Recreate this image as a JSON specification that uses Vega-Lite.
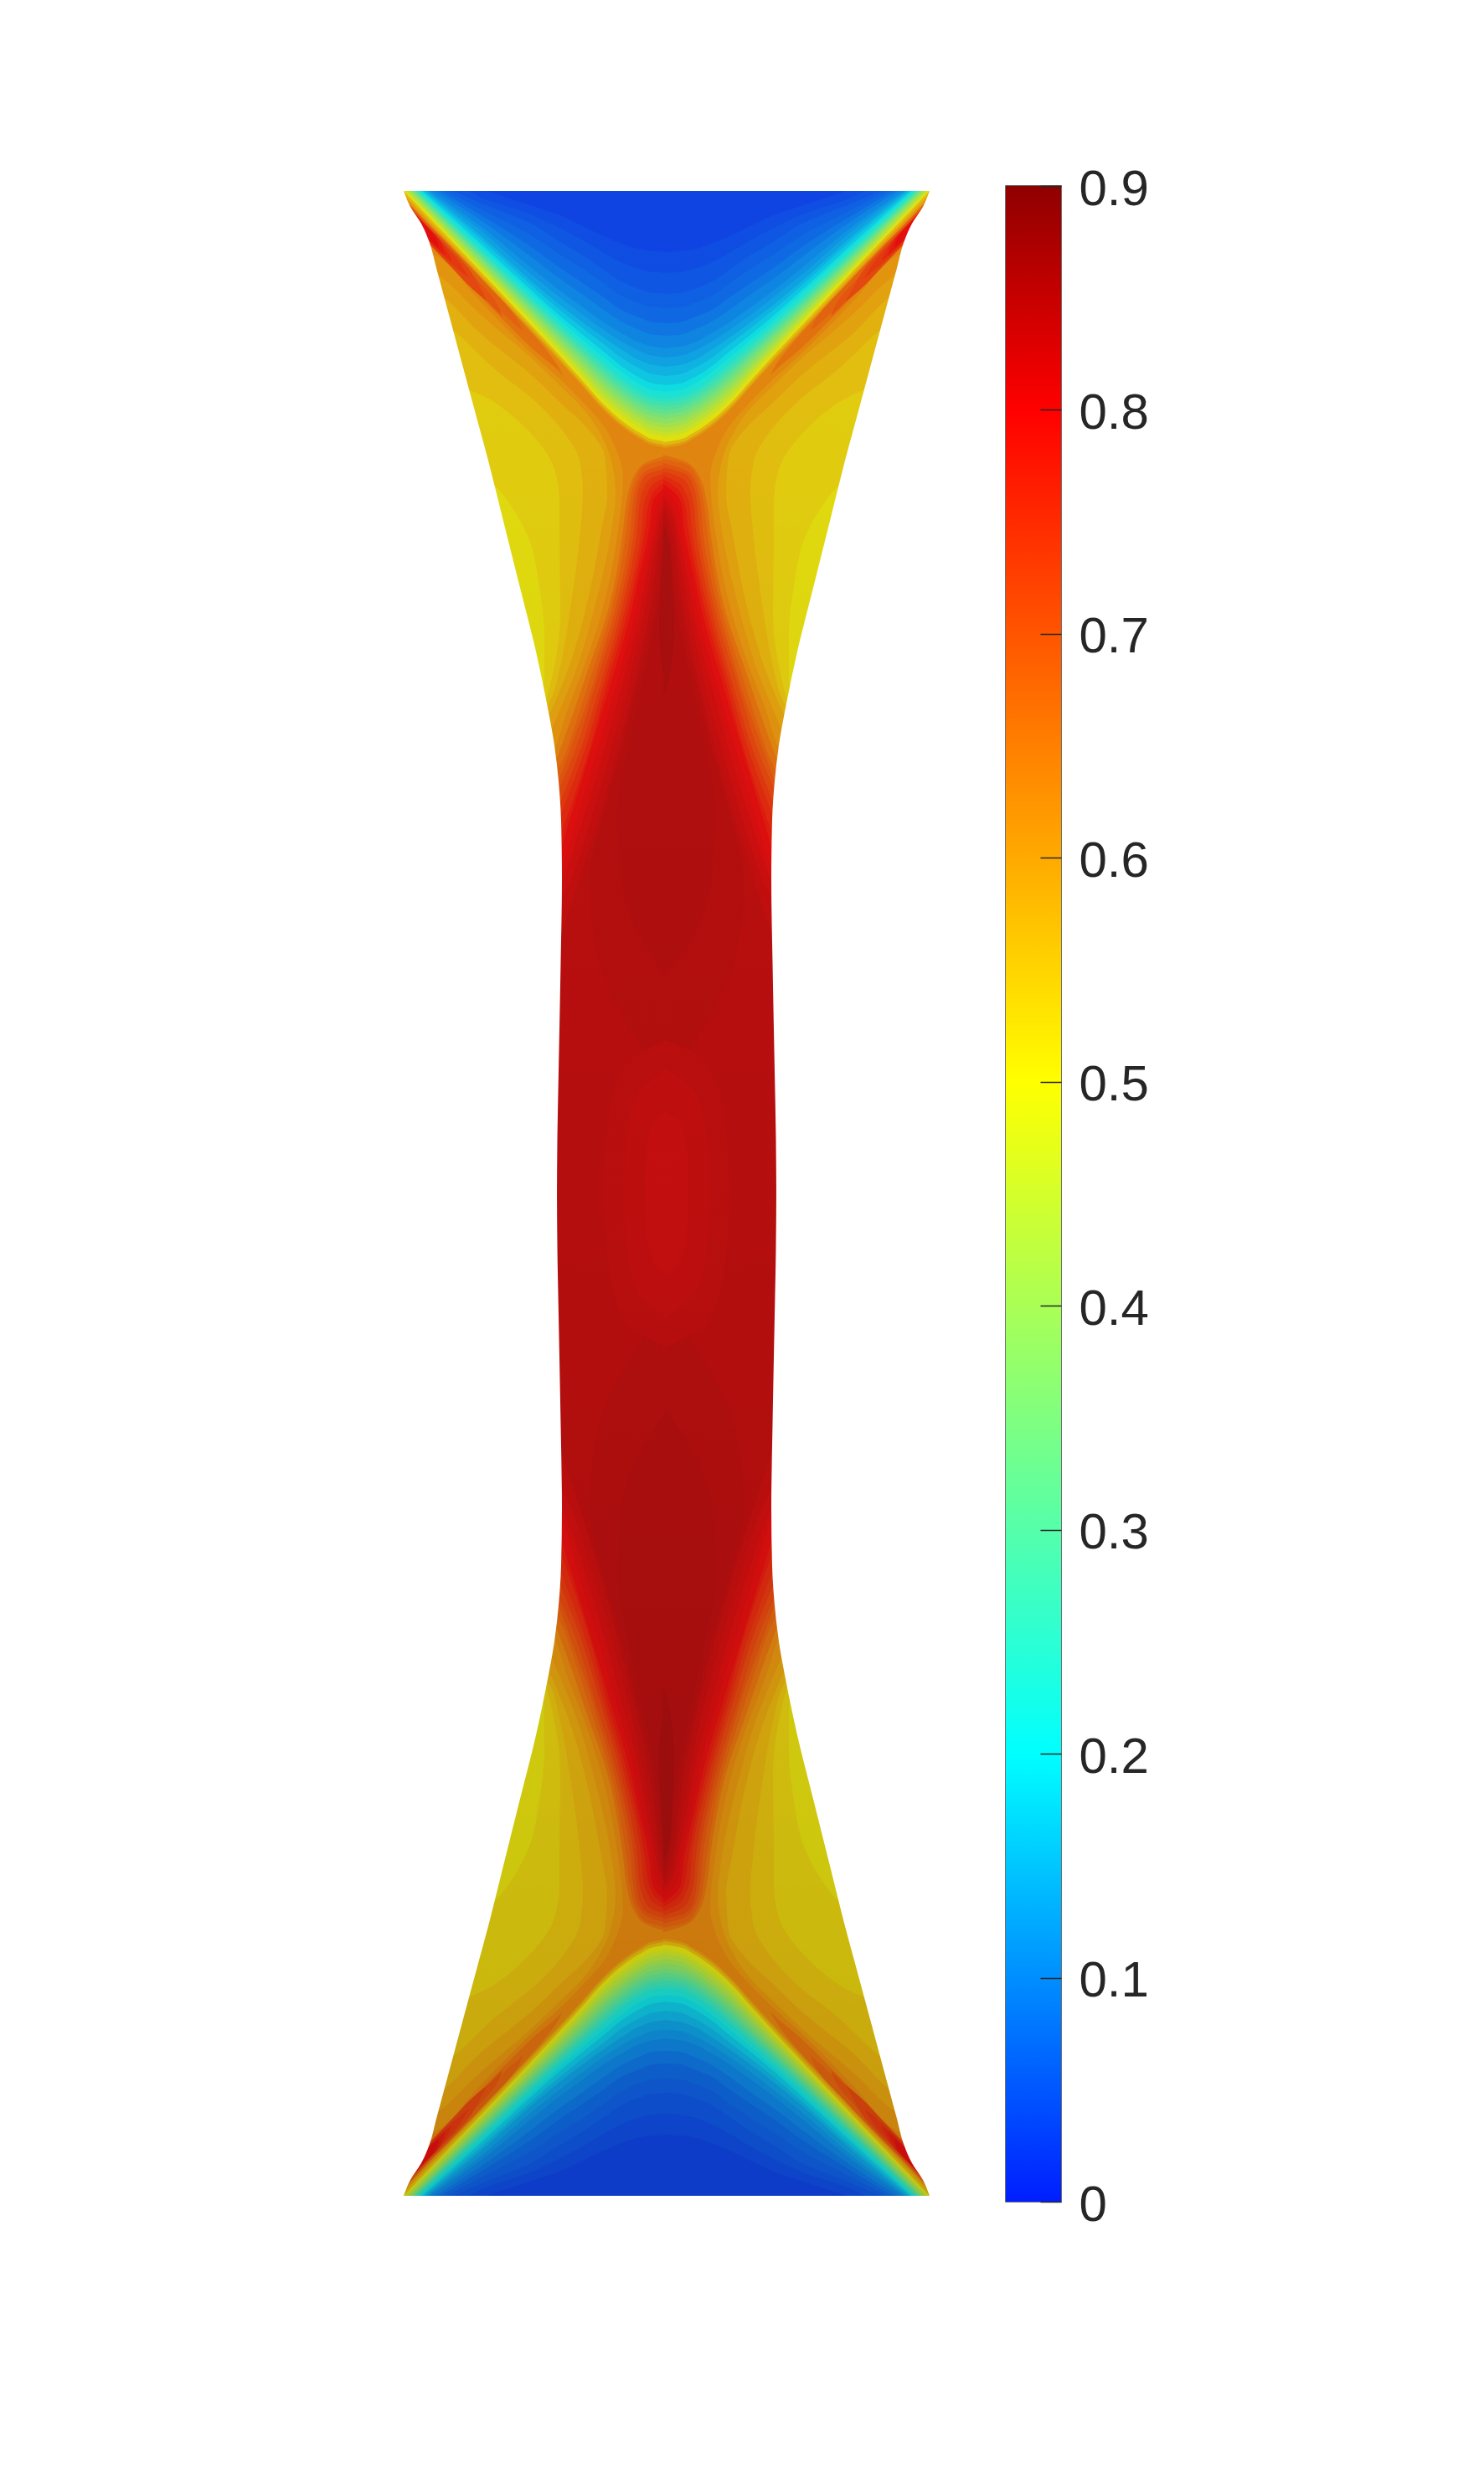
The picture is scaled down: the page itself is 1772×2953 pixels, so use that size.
{"$schema":"https://vega.github.io/schema/vega-lite/v6.json","background":"white","padding":{"left":440,"top":195,"right":0,"bottom":0},"spacing":60,"config":{"view":{"stroke":null}},
"datasets":{"edge":[{"y":228,"x":482},{"y":247,"x":490},{"y":267,"x":503},{"y":290,"x":513},{"y":320,"x":521},{"y":370,"x":534.5},{"y":437,"x":552.5},{"y":500,"x":569.5},{"y":550,"x":583},{"y":620,"x":600.5},{"y":700,"x":620.5},{"y":778,"x":640},{"y":840,"x":653},{"y":890,"x":662},{"y":933,"x":667},{"y":980,"x":670},{"y":1050,"x":671},{"y":1150,"x":669.5},{"y":1280,"x":667},{"y":1360,"x":665.5},{"y":1431,"x":665}],
"bands":[
{"g":"b","y":228,"x":460,"c":800,"v":0.51},{"g":"b","y":1430,"x":460,"c":800,"v":0.51},
{"g":"c53","y":228,"x":471,"c":800,"v":0.53},{"g":"c53","y":480,"x":471,"c":800,"v":0.53},{"g":"c53","y":590,"x":600,"c":800,"v":0.53},{"g":"c53","y":640,"x":630,"c":800,"v":0.53},{"g":"c53","y":700,"x":644,"c":800,"v":0.53},{"g":"c53","y":760,"x":650,"c":800,"v":0.53},{"g":"c53","y":810,"x":650,"c":800,"v":0.53},{"g":"c53","y":860,"x":630,"c":800,"v":0.53},{"g":"c53","y":1430,"x":630,"c":800,"v":0.53},
{"g":"c55","y":228,"x":471,"c":800,"v":0.55},{"g":"c55","y":420,"x":471,"c":800,"v":0.55},{"g":"c55","y":480,"x":590,"c":800,"v":0.55},{"g":"c55","y":520,"x":636,"c":800,"v":0.55},{"g":"c55","y":560,"x":662,"c":800,"v":0.55},{"g":"c55","y":600,"x":668,"c":800,"v":0.55},{"g":"c55","y":633,"x":668,"c":800,"v":0.55},{"g":"c55","y":733,"x":669,"c":800,"v":0.55},{"g":"c55","y":800,"x":661,"c":800,"v":0.55},{"g":"c55","y":840,"x":651,"c":800,"v":0.55},{"g":"c55","y":900,"x":630,"c":800,"v":0.55},{"g":"c55","y":1430,"x":630,"c":800,"v":0.55},
{"g":"c57","y":228,"x":471,"c":800,"v":0.57},{"g":"c57","y":340,"x":471,"c":800,"v":0.57},{"g":"c57","y":400,"x":548,"c":800,"v":0.57},{"g":"c57","y":440,"x":590,"c":800,"v":0.57},{"g":"c57","y":480,"x":640,"c":800,"v":0.57},{"g":"c57","y":520,"x":676,"c":800,"v":0.57},{"g":"c57","y":550,"x":692,"c":800,"v":0.57},{"g":"c57","y":590,"x":696,"c":800,"v":0.57},{"g":"c57","y":633,"x":693,"c":800,"v":0.57},{"g":"c57","y":733,"x":680,"c":800,"v":0.57},{"g":"c57","y":800,"x":668,"c":800,"v":0.57},{"g":"c57","y":830,"x":660,"c":800,"v":0.57},{"g":"c57","y":860,"x":645,"c":800,"v":0.57},{"g":"c57","y":900,"x":630,"c":800,"v":0.57},{"g":"c57","y":1430,"x":630,"c":800,"v":0.57},
{"g":"c59","y":228,"x":471,"c":800,"v":0.59},{"g":"c59","y":310,"x":471,"c":800,"v":0.59},{"g":"c59","y":360,"x":536,"c":800,"v":0.59},{"g":"c59","y":395,"x":570,"c":800,"v":0.59},{"g":"c59","y":450,"x":637,"c":800,"v":0.59},{"g":"c59","y":480,"x":668,"c":800,"v":0.59},{"g":"c59","y":510,"x":700,"c":800,"v":0.59},{"g":"c59","y":545,"x":722,"c":800,"v":0.59},{"g":"c59","y":590,"x":725,"c":800,"v":0.59},{"g":"c59","y":633,"x":718,"c":800,"v":0.59},{"g":"c59","y":733,"x":698,"c":800,"v":0.59},{"g":"c59","y":800,"x":678,"c":800,"v":0.59},{"g":"c59","y":840,"x":662,"c":800,"v":0.59},{"g":"c59","y":880,"x":645,"c":800,"v":0.59},{"g":"c59","y":1430,"x":630,"c":800,"v":0.59},
{"g":"c61","y":228,"x":471,"c":800,"v":0.61},{"g":"c61","y":290,"x":471,"c":800,"v":0.61},{"g":"c61","y":335,"x":532,"c":800,"v":0.61},{"g":"c61","y":372,"x":570,"c":800,"v":0.61},{"g":"c61","y":430,"x":637,"c":800,"v":0.61},{"g":"c61","y":460,"x":668,"c":800,"v":0.61},{"g":"c61","y":490,"x":698,"c":800,"v":0.61},{"g":"c61","y":520,"x":718,"c":800,"v":0.61},{"g":"c61","y":550,"x":730,"c":800,"v":0.61},{"g":"c61","y":590,"x":735,"c":800,"v":0.61},{"g":"c61","y":633,"x":730,"c":800,"v":0.61},{"g":"c61","y":733,"x":708,"c":800,"v":0.61},{"g":"c61","y":800,"x":688,"c":800,"v":0.61},{"g":"c61","y":840,"x":672,"c":800,"v":0.61},{"g":"c61","y":880,"x":655,"c":800,"v":0.61},{"g":"c61","y":930,"x":636,"c":800,"v":0.61},{"g":"c61","y":1430,"x":636,"c":800,"v":0.61},
{"g":"c63","y":228,"x":471,"c":800,"v":0.63},{"g":"c63","y":272,"x":471,"c":800,"v":0.63},{"g":"c63","y":310,"x":528,"c":800,"v":0.63},{"g":"c63","y":356,"x":570,"c":800,"v":0.63},{"g":"c63","y":424,"x":637,"c":800,"v":0.63},{"g":"c63","y":452,"x":668,"c":800,"v":0.63},{"g":"c63","y":482,"x":698,"c":800,"v":0.63},{"g":"c63","y":510,"x":722,"c":800,"v":0.63},{"g":"c63","y":535,"x":735,"c":800,"v":0.63},{"g":"c63","y":570,"x":744,"c":800,"v":0.63},{"g":"c63","y":633,"x":738,"c":800,"v":0.63},{"g":"c63","y":733,"x":718,"c":800,"v":0.63},{"g":"c63","y":800,"x":696,"c":800,"v":0.63},{"g":"c63","y":850,"x":677,"c":800,"v":0.63},{"g":"c63","y":890,"x":664,"c":800,"v":0.63},{"g":"c63","y":930,"x":646,"c":800,"v":0.63},{"g":"c63","y":1430,"x":636,"c":800,"v":0.63},
{"g":"l66","y":235,"x":471,"c":479,"v":0.66},{"g":"l66","y":270,"x":494,"c":513,"v":0.66},{"g":"l66","y":320,"x":542,"c":561,"v":0.66},{"g":"l66","y":380,"x":599,"c":619,"v":0.66},{"g":"l66","y":420,"x":640,"c":654,"v":0.66},{"g":"l66","y":440,"x":664,"c":668,"v":0.66},{"g":"l66","y":448,"x":672,"c":672,"v":0.66},
{"g":"l68","y":235,"x":471,"c":481,"v":0.68},{"g":"l68","y":270,"x":496,"c":514,"v":0.68},{"g":"l68","y":300,"x":527,"c":544,"v":0.68},{"g":"l68","y":340,"x":566,"c":582,"v":0.68},{"g":"l68","y":370,"x":596,"c":610,"v":0.68},{"g":"l68","y":385,"x":612,"c":620,"v":0.68},{"g":"l68","y":395,"x":624,"c":624,"v":0.68},
{"g":"l70","y":238,"x":471,"c":482,"v":0.7},{"g":"l70","y":268,"x":491,"c":510,"v":0.7},{"g":"l70","y":295,"x":519,"c":537,"v":0.7},{"g":"l70","y":330,"x":553,"c":566,"v":0.7},{"g":"l70","y":360,"x":582,"c":592,"v":0.7},{"g":"l70","y":378,"x":600,"c":600,"v":0.7},
{"g":"l72","y":240,"x":471,"c":482,"v":0.72},{"g":"l72","y":265,"x":486,"c":506,"v":0.72},{"g":"l72","y":290,"x":511,"c":530,"v":0.72},{"g":"l72","y":320,"x":540,"c":559,"v":0.72},{"g":"l72","y":345,"x":564,"c":574,"v":0.72},{"g":"l72","y":360,"x":582,"c":582,"v":0.72},
{"g":"l74","y":243,"x":471,"c":484,"v":0.74},{"g":"l74","y":265,"x":489,"c":505,"v":0.74},{"g":"l74","y":288,"x":511,"c":527,"v":0.74},{"g":"l74","y":310,"x":533,"c":546,"v":0.74},{"g":"l74","y":332,"x":560,"c":560,"v":0.74},
{"g":"l76","y":245,"x":471,"c":485,"v":0.76},{"g":"l76","y":265,"x":491,"c":505,"v":0.76},{"g":"l76","y":285,"x":510,"c":524,"v":0.76},{"g":"l76","y":300,"x":524,"c":534,"v":0.76},{"g":"l76","y":312,"x":540,"c":540,"v":0.76},
{"g":"l78","y":248,"x":471,"c":488,"v":0.78},{"g":"l78","y":268,"x":494,"c":507,"v":0.78},{"g":"l78","y":285,"x":510,"c":523,"v":0.78},{"g":"l78","y":305,"x":532,"c":532,"v":0.78},
{"g":"l80","y":250,"x":471,"c":490,"v":0.8},{"g":"l80","y":270,"x":496,"c":509,"v":0.8},{"g":"l80","y":285,"x":511,"c":521,"v":0.8},{"g":"l80","y":296,"x":524,"c":524,"v":0.8},
{"g":"d66","y":543,"x":800,"c":800,"v":0.66},{"g":"d66","y":552,"x":772,"c":800,"v":0.66},{"g":"d66","y":567,"x":758,"c":800,"v":0.66},{"g":"d66","y":600,"x":748,"c":800,"v":0.66},{"g":"d66","y":633,"x":744,"c":800,"v":0.66},{"g":"d66","y":733,"x":725,"c":800,"v":0.66},{"g":"d66","y":800,"x":702,"c":800,"v":0.66},{"g":"d66","y":850,"x":685,"c":800,"v":0.66},{"g":"d66","y":900,"x":667,"c":800,"v":0.66},{"g":"d66","y":950,"x":648,"c":800,"v":0.66},{"g":"d66","y":1430,"x":636,"c":800,"v":0.66},
{"g":"d68","y":548,"x":800,"c":800,"v":0.68},{"g":"d68","y":556,"x":770,"c":800,"v":0.68},{"g":"d68","y":570,"x":760,"c":800,"v":0.68},{"g":"d68","y":600,"x":752,"c":800,"v":0.68},{"g":"d68","y":633,"x":748,"c":800,"v":0.68},{"g":"d68","y":733,"x":729,"c":800,"v":0.68},{"g":"d68","y":800,"x":708,"c":800,"v":0.68},{"g":"d68","y":850,"x":692,"c":800,"v":0.68},{"g":"d68","y":900,"x":675,"c":800,"v":0.68},{"g":"d68","y":950,"x":655,"c":800,"v":0.68},{"g":"d68","y":1430,"x":640,"c":800,"v":0.68},
{"g":"d70","y":553,"x":800,"c":800,"v":0.7},{"g":"d70","y":562,"x":772,"c":800,"v":0.7},{"g":"d70","y":575,"x":762,"c":800,"v":0.7},{"g":"d70","y":600,"x":756,"c":800,"v":0.7},{"g":"d70","y":633,"x":753,"c":800,"v":0.7},{"g":"d70","y":733,"x":733,"c":800,"v":0.7},{"g":"d70","y":800,"x":713,"c":800,"v":0.7},{"g":"d70","y":833,"x":703,"c":800,"v":0.7},{"g":"d70","y":880,"x":686,"c":800,"v":0.7},{"g":"d70","y":930,"x":668,"c":800,"v":0.7},{"g":"d70","y":1000,"x":640,"c":800,"v":0.7},{"g":"d70","y":1430,"x":640,"c":800,"v":0.7},
{"g":"d72","y":558,"x":800,"c":800,"v":0.72},{"g":"d72","y":567,"x":772,"c":800,"v":0.72},{"g":"d72","y":580,"x":764,"c":800,"v":0.72},{"g":"d72","y":600,"x":760,"c":800,"v":0.72},{"g":"d72","y":633,"x":757,"c":800,"v":0.72},{"g":"d72","y":733,"x":737,"c":800,"v":0.72},{"g":"d72","y":827,"x":708,"c":800,"v":0.72},{"g":"d72","y":887,"x":690,"c":800,"v":0.72},{"g":"d72","y":930,"x":673,"c":800,"v":0.72},{"g":"d72","y":970,"x":656,"c":800,"v":0.72},{"g":"d72","y":1430,"x":646,"c":800,"v":0.72},
{"g":"d74","y":563,"x":800,"c":800,"v":0.74},{"g":"d74","y":572,"x":776,"c":800,"v":0.74},{"g":"d74","y":585,"x":768,"c":800,"v":0.74},{"g":"d74","y":600,"x":764,"c":800,"v":0.74},{"g":"d74","y":633,"x":761,"c":800,"v":0.74},{"g":"d74","y":733,"x":741,"c":800,"v":0.74},{"g":"d74","y":827,"x":714,"c":800,"v":0.74},{"g":"d74","y":887,"x":696,"c":800,"v":0.74},{"g":"d74","y":930,"x":680,"c":800,"v":0.74},{"g":"d74","y":970,"x":664,"c":800,"v":0.74},{"g":"d74","y":1000,"x":652,"c":800,"v":0.74},{"g":"d74","y":1430,"x":646,"c":800,"v":0.74},
{"g":"d76","y":568,"x":800,"c":800,"v":0.76},{"g":"d76","y":578,"x":780,"c":800,"v":0.76},{"g":"d76","y":590,"x":773,"c":800,"v":0.76},{"g":"d76","y":600,"x":769,"c":800,"v":0.76},{"g":"d76","y":633,"x":766,"c":800,"v":0.76},{"g":"d76","y":733,"x":745,"c":800,"v":0.76},{"g":"d76","y":827,"x":718,"c":800,"v":0.76},{"g":"d76","y":887,"x":701,"c":800,"v":0.76},{"g":"d76","y":930,"x":686,"c":800,"v":0.76},{"g":"d76","y":967,"x":672,"c":800,"v":0.76},{"g":"d76","y":1000,"x":660,"c":800,"v":0.76},{"g":"d76","y":1430,"x":650,"c":800,"v":0.76},
{"g":"d78","y":573,"x":800,"c":800,"v":0.78},{"g":"d78","y":583,"x":784,"c":800,"v":0.78},{"g":"d78","y":600,"x":775,"c":800,"v":0.78},{"g":"d78","y":633,"x":770,"c":800,"v":0.78},{"g":"d78","y":733,"x":749,"c":800,"v":0.78},{"g":"d78","y":827,"x":722,"c":800,"v":0.78},{"g":"d78","y":887,"x":706,"c":800,"v":0.78},{"g":"d78","y":967,"x":680,"c":800,"v":0.78},{"g":"d78","y":1000,"x":668,"c":800,"v":0.78},{"g":"d78","y":1040,"x":656,"c":800,"v":0.78},{"g":"d78","y":1430,"x":650,"c":800,"v":0.78},
{"g":"d80","y":578,"x":800,"c":800,"v":0.8},{"g":"d80","y":587,"x":788,"c":800,"v":0.8},{"g":"d80","y":600,"x":779,"c":800,"v":0.8},{"g":"d80","y":633,"x":775,"c":800,"v":0.8},{"g":"d80","y":687,"x":763,"c":800,"v":0.8},{"g":"d80","y":733,"x":753,"c":800,"v":0.8},{"g":"d80","y":827,"x":726,"c":800,"v":0.8},{"g":"d80","y":887,"x":708,"c":800,"v":0.8},{"g":"d80","y":967,"x":684,"c":800,"v":0.8},{"g":"d80","y":1000,"x":674,"c":800,"v":0.8},{"g":"d80","y":1060,"x":660,"c":800,"v":0.8},{"g":"d80","y":1430,"x":650,"c":800,"v":0.8},
{"g":"d81","y":585,"x":800,"c":800,"v":0.81},{"g":"d81","y":605,"x":783,"c":800,"v":0.81},{"g":"d81","y":633,"x":779,"c":800,"v":0.81},{"g":"d81","y":687,"x":767,"c":800,"v":0.81},{"g":"d81","y":733,"x":758,"c":800,"v":0.81},{"g":"d81","y":827,"x":733,"c":800,"v":0.81},{"g":"d81","y":887,"x":716,"c":800,"v":0.81},{"g":"d81","y":967,"x":692,"c":800,"v":0.81},{"g":"d81","y":1050,"x":668,"c":800,"v":0.81},{"g":"d81","y":1100,"x":652,"c":800,"v":0.81},{"g":"d81","y":1430,"x":650,"c":800,"v":0.81},
{"g":"d82","y":592,"x":800,"c":800,"v":0.82},{"g":"d82","y":610,"x":788,"c":800,"v":0.82},{"g":"d82","y":633,"x":783,"c":800,"v":0.82},{"g":"d82","y":687,"x":772,"c":800,"v":0.82},{"g":"d82","y":733,"x":764,"c":800,"v":0.82},{"g":"d82","y":827,"x":740,"c":800,"v":0.82},{"g":"d82","y":887,"x":724,"c":800,"v":0.82},{"g":"d82","y":967,"x":700,"c":800,"v":0.82},{"g":"d82","y":1050,"x":672,"c":800,"v":0.82},{"g":"d82","y":1100,"x":650,"c":800,"v":0.82},{"g":"d82","y":1430,"x":650,"c":800,"v":0.82},
{"g":"d83","y":598,"x":800,"c":800,"v":0.83},{"g":"d83","y":620,"x":788,"c":800,"v":0.83},{"g":"d83","y":633,"x":786,"c":800,"v":0.83},{"g":"d83","y":687,"x":777,"c":800,"v":0.83},{"g":"d83","y":733,"x":769,"c":800,"v":0.83},{"g":"d83","y":827,"x":748,"c":800,"v":0.83},{"g":"d83","y":887,"x":732,"c":800,"v":0.83},{"g":"d83","y":967,"x":709,"c":800,"v":0.83},{"g":"d83","y":1050,"x":682,"c":800,"v":0.83},{"g":"d83","y":1100,"x":660,"c":800,"v":0.83},{"g":"d83","y":1430,"x":650,"c":800,"v":0.83},
{"g":"d84","y":605,"x":800,"c":800,"v":0.84},{"g":"d84","y":633,"x":790,"c":800,"v":0.84},{"g":"d84","y":687,"x":782,"c":800,"v":0.84},{"g":"d84","y":733,"x":775,"c":800,"v":0.84},{"g":"d84","y":827,"x":755,"c":800,"v":0.84},{"g":"d84","y":887,"x":740,"c":800,"v":0.84},{"g":"d84","y":967,"x":718,"c":800,"v":0.84},{"g":"d84","y":1050,"x":692,"c":800,"v":0.84},{"g":"d84","y":1120,"x":668,"c":800,"v":0.84},{"g":"d84","y":1160,"x":650,"c":800,"v":0.84},{"g":"d84","y":1430,"x":650,"c":800,"v":0.84},
{"g":"d845","y":612,"x":800,"c":800,"v":0.845},{"g":"d845","y":640,"x":792,"c":800,"v":0.845},{"g":"d845","y":700,"x":785,"c":800,"v":0.845},{"g":"d845","y":750,"x":776,"c":800,"v":0.845},{"g":"d845","y":827,"x":758,"c":800,"v":0.845},{"g":"d845","y":887,"x":744,"c":800,"v":0.845},{"g":"d845","y":967,"x":722,"c":800,"v":0.845},{"g":"d845","y":1050,"x":704,"c":800,"v":0.845},{"g":"d845","y":1150,"x":716,"c":800,"v":0.845},{"g":"d845","y":1240,"x":760,"c":800,"v":0.845},{"g":"d845","y":1300,"x":800,"c":800,"v":0.845},
{"g":"d85","y":620,"x":800,"c":800,"v":0.85},{"g":"d85","y":645,"x":793,"c":800,"v":0.85},{"g":"d85","y":700,"x":788,"c":800,"v":0.85},{"g":"d85","y":750,"x":780,"c":800,"v":0.85},{"g":"d85","y":827,"x":764,"c":800,"v":0.85},{"g":"d85","y":887,"x":751,"c":800,"v":0.85},{"g":"d85","y":967,"x":738,"c":800,"v":0.85},{"g":"d85","y":1050,"x":742,"c":800,"v":0.85},{"g":"d85","y":1120,"x":766,"c":800,"v":0.85},{"g":"d85","y":1170,"x":800,"c":800,"v":0.85},
{"g":"d86","y":628,"x":800,"c":800,"v":0.86},{"g":"d86","y":650,"x":793,"c":800,"v":0.86},{"g":"d86","y":700,"x":789,"c":800,"v":0.86},{"g":"d86","y":750,"x":787,"c":800,"v":0.86},{"g":"d86","y":800,"x":791,"c":800,"v":0.86},{"g":"d86","y":835,"x":800,"c":800,"v":0.86},
{"g":"m835","y":1240,"x":800,"c":800,"v":0.835},{"g":"m835","y":1270,"x":748,"c":800,"v":0.835},{"g":"m835","y":1340,"x":726,"c":800,"v":0.835},{"g":"m835","y":1430,"x":720,"c":800,"v":0.835},
{"g":"m83","y":1275,"x":800,"c":800,"v":0.83},{"g":"m83","y":1305,"x":762,"c":800,"v":0.83},{"g":"m83","y":1360,"x":748,"c":800,"v":0.83},{"g":"m83","y":1430,"x":744,"c":800,"v":0.83},
{"g":"m825","y":1325,"x":800,"c":800,"v":0.825},{"g":"m825","y":1345,"x":778,"c":800,"v":0.825},{"g":"m825","y":1385,"x":771,"c":800,"v":0.825},{"g":"m825","y":1430,"x":770,"c":800,"v":0.825},
{"g":"u60","y":228,"x":474,"c":800,"v":0.6},{"g":"u60","y":328,"x":571,"c":800,"v":0.6},{"g":"u60","y":397,"x":636,"c":800,"v":0.6},{"g":"u60","y":429,"x":666,"c":800,"v":0.6},{"g":"u60","y":462,"x":696,"c":800,"v":0.6},{"g":"u60","y":490,"x":721,"c":800,"v":0.6},{"g":"u60","y":512,"x":746,"c":800,"v":0.6},{"g":"u60","y":525,"x":766,"c":800,"v":0.6},{"g":"u60","y":532,"x":781,"c":800,"v":0.6},{"g":"u60","y":535,"x":800,"c":800,"v":0.6},
{"g":"u56","y":228,"x":478,"c":800,"v":0.56},{"g":"u56","y":325,"x":571,"c":800,"v":0.56},{"g":"u56","y":394,"x":636,"c":800,"v":0.56},{"g":"u56","y":426,"x":666,"c":800,"v":0.56},{"g":"u56","y":459,"x":696,"c":800,"v":0.56},{"g":"u56","y":487,"x":721,"c":800,"v":0.56},{"g":"u56","y":509,"x":746,"c":800,"v":0.56},{"g":"u56","y":522,"x":766,"c":800,"v":0.56},{"g":"u56","y":529,"x":781,"c":800,"v":0.56},{"g":"u56","y":532,"x":800,"c":800,"v":0.56},
{"g":"v50","y":228,"x":482,"c":800,"v":0.5},{"g":"v50","y":321,"x":571,"c":800,"v":0.5},{"g":"v50","y":390,"x":636,"c":800,"v":0.5},{"g":"v50","y":422,"x":666,"c":800,"v":0.5},{"g":"v50","y":455,"x":696,"c":800,"v":0.5},{"g":"v50","y":483,"x":721,"c":800,"v":0.5},{"g":"v50","y":505,"x":746,"c":800,"v":0.5},{"g":"v50","y":518,"x":766,"c":800,"v":0.5},{"g":"v50","y":525,"x":781,"c":800,"v":0.5},{"g":"v50","y":528,"x":800,"c":800,"v":0.5},
{"g":"v47","y":228,"x":484,"c":800,"v":0.47},{"g":"v47","y":318,"x":571,"c":800,"v":0.47},{"g":"v47","y":386,"x":636,"c":800,"v":0.47},{"g":"v47","y":418,"x":666,"c":800,"v":0.47},{"g":"v47","y":450,"x":696,"c":800,"v":0.47},{"g":"v47","y":478,"x":721,"c":800,"v":0.47},{"g":"v47","y":499,"x":746,"c":800,"v":0.47},{"g":"v47","y":512,"x":766,"c":800,"v":0.47},{"g":"v47","y":519,"x":781,"c":800,"v":0.47},{"g":"v47","y":522,"x":800,"c":800,"v":0.47},
{"g":"v44","y":228,"x":486,"c":800,"v":0.44},{"g":"v44","y":316,"x":571,"c":800,"v":0.44},{"g":"v44","y":383,"x":636,"c":800,"v":0.44},{"g":"v44","y":414,"x":666,"c":800,"v":0.44},{"g":"v44","y":446,"x":696,"c":800,"v":0.44},{"g":"v44","y":473,"x":721,"c":800,"v":0.44},{"g":"v44","y":494,"x":746,"c":800,"v":0.44},{"g":"v44","y":507,"x":766,"c":800,"v":0.44},{"g":"v44","y":514,"x":781,"c":800,"v":0.44},{"g":"v44","y":517,"x":800,"c":800,"v":0.44},
{"g":"v41","y":228,"x":488,"c":800,"v":0.41},{"g":"v41","y":313,"x":571,"c":800,"v":0.41},{"g":"v41","y":379,"x":636,"c":800,"v":0.41},{"g":"v41","y":410,"x":666,"c":800,"v":0.41},{"g":"v41","y":441,"x":696,"c":800,"v":0.41},{"g":"v41","y":467,"x":721,"c":800,"v":0.41},{"g":"v41","y":488,"x":746,"c":800,"v":0.41},{"g":"v41","y":501,"x":766,"c":800,"v":0.41},{"g":"v41","y":508,"x":781,"c":800,"v":0.41},{"g":"v41","y":511,"x":800,"c":800,"v":0.41},
{"g":"v38","y":228,"x":490,"c":800,"v":0.38},{"g":"v38","y":310,"x":571,"c":800,"v":0.38},{"g":"v38","y":376,"x":636,"c":800,"v":0.38},{"g":"v38","y":406,"x":666,"c":800,"v":0.38},{"g":"v38","y":437,"x":696,"c":800,"v":0.38},{"g":"v38","y":462,"x":721,"c":800,"v":0.38},{"g":"v38","y":483,"x":746,"c":800,"v":0.38},{"g":"v38","y":496,"x":766,"c":800,"v":0.38},{"g":"v38","y":503,"x":781,"c":800,"v":0.38},{"g":"v38","y":506,"x":800,"c":800,"v":0.38},
{"g":"v35","y":228,"x":492,"c":800,"v":0.35},{"g":"v35","y":307,"x":571,"c":800,"v":0.35},{"g":"v35","y":372,"x":636,"c":800,"v":0.35},{"g":"v35","y":402,"x":666,"c":800,"v":0.35},{"g":"v35","y":432,"x":696,"c":800,"v":0.35},{"g":"v35","y":457,"x":721,"c":800,"v":0.35},{"g":"v35","y":478,"x":746,"c":800,"v":0.35},{"g":"v35","y":491,"x":766,"c":800,"v":0.35},{"g":"v35","y":497,"x":781,"c":800,"v":0.35},{"g":"v35","y":500,"x":800,"c":800,"v":0.35},
{"g":"v32","y":228,"x":494,"c":800,"v":0.32},{"g":"v32","y":304,"x":571,"c":800,"v":0.32},{"g":"v32","y":369,"x":636,"c":800,"v":0.32},{"g":"v32","y":398,"x":666,"c":800,"v":0.32},{"g":"v32","y":427,"x":696,"c":800,"v":0.32},{"g":"v32","y":452,"x":721,"c":800,"v":0.32},{"g":"v32","y":473,"x":746,"c":800,"v":0.32},{"g":"v32","y":486,"x":766,"c":800,"v":0.32},{"g":"v32","y":492,"x":781,"c":800,"v":0.32},{"g":"v32","y":495,"x":800,"c":800,"v":0.32},
{"g":"v295","y":228,"x":495,"c":800,"v":0.295},{"g":"v295","y":302,"x":571,"c":800,"v":0.295},{"g":"v295","y":366,"x":636,"c":800,"v":0.295},{"g":"v295","y":395,"x":666,"c":800,"v":0.295},{"g":"v295","y":423,"x":696,"c":800,"v":0.295},{"g":"v295","y":447,"x":721,"c":800,"v":0.295},{"g":"v295","y":468,"x":746,"c":800,"v":0.295},{"g":"v295","y":481,"x":766,"c":800,"v":0.295},{"g":"v295","y":487,"x":781,"c":800,"v":0.295},{"g":"v295","y":490,"x":800,"c":800,"v":0.295},
{"g":"v27","y":228,"x":497,"c":800,"v":0.27},{"g":"v27","y":300,"x":571,"c":800,"v":0.27},{"g":"v27","y":363,"x":636,"c":800,"v":0.27},{"g":"v27","y":392,"x":666,"c":800,"v":0.27},{"g":"v27","y":420,"x":696,"c":800,"v":0.27},{"g":"v27","y":443,"x":721,"c":800,"v":0.27},{"g":"v27","y":464,"x":746,"c":800,"v":0.27},{"g":"v27","y":477,"x":766,"c":800,"v":0.27},{"g":"v27","y":483,"x":781,"c":800,"v":0.27},{"g":"v27","y":485,"x":800,"c":800,"v":0.27},
{"g":"v245","y":228,"x":498,"c":800,"v":0.245},{"g":"v245","y":297,"x":571,"c":800,"v":0.245},{"g":"v245","y":360,"x":636,"c":800,"v":0.245},{"g":"v245","y":388,"x":666,"c":800,"v":0.245},{"g":"v245","y":416,"x":696,"c":800,"v":0.245},{"g":"v245","y":438,"x":721,"c":800,"v":0.245},{"g":"v245","y":459,"x":746,"c":800,"v":0.245},{"g":"v245","y":472,"x":766,"c":800,"v":0.245},{"g":"v245","y":478,"x":781,"c":800,"v":0.245},{"g":"v245","y":480,"x":800,"c":800,"v":0.245},
{"g":"v22","y":228,"x":500,"c":800,"v":0.22},{"g":"v22","y":295,"x":571,"c":800,"v":0.22},{"g":"v22","y":357,"x":636,"c":800,"v":0.22},{"g":"v22","y":385,"x":666,"c":800,"v":0.22},{"g":"v22","y":412,"x":696,"c":800,"v":0.22},{"g":"v22","y":434,"x":721,"c":800,"v":0.22},{"g":"v22","y":455,"x":746,"c":800,"v":0.22},{"g":"v22","y":468,"x":766,"c":800,"v":0.22},{"g":"v22","y":474,"x":781,"c":800,"v":0.22},{"g":"v22","y":476,"x":800,"c":800,"v":0.22},
{"g":"v195","y":228,"x":502,"c":800,"v":0.195},{"g":"v195","y":291,"x":571,"c":800,"v":0.195},{"g":"v195","y":352,"x":636,"c":800,"v":0.195},{"g":"v195","y":380,"x":666,"c":800,"v":0.195},{"g":"v195","y":406,"x":696,"c":800,"v":0.195},{"g":"v195","y":427,"x":721,"c":800,"v":0.195},{"g":"v195","y":447,"x":746,"c":800,"v":0.195},{"g":"v195","y":460,"x":766,"c":800,"v":0.195},{"g":"v195","y":466,"x":781,"c":800,"v":0.195},{"g":"v195","y":468,"x":800,"c":800,"v":0.195},
{"g":"v17","y":228,"x":504,"c":800,"v":0.17},{"g":"v17","y":288,"x":571,"c":800,"v":0.17},{"g":"v17","y":348,"x":636,"c":800,"v":0.17},{"g":"v17","y":375,"x":666,"c":800,"v":0.17},{"g":"v17","y":400,"x":696,"c":800,"v":0.17},{"g":"v17","y":420,"x":721,"c":800,"v":0.17},{"g":"v17","y":440,"x":746,"c":800,"v":0.17},{"g":"v17","y":452,"x":766,"c":800,"v":0.17},{"g":"v17","y":458,"x":781,"c":800,"v":0.17},{"g":"v17","y":460,"x":800,"c":800,"v":0.17},
{"g":"v15","y":228,"x":506,"c":800,"v":0.15},{"g":"v15","y":283,"x":571,"c":800,"v":0.15},{"g":"v15","y":342,"x":636,"c":800,"v":0.15},{"g":"v15","y":368,"x":666,"c":800,"v":0.15},{"g":"v15","y":392,"x":696,"c":800,"v":0.15},{"g":"v15","y":411,"x":721,"c":800,"v":0.15},{"g":"v15","y":430,"x":746,"c":800,"v":0.15},{"g":"v15","y":441,"x":766,"c":800,"v":0.15},{"g":"v15","y":447,"x":781,"c":800,"v":0.15},{"g":"v15","y":449,"x":800,"c":800,"v":0.15},
{"g":"v13","y":228,"x":509,"c":800,"v":0.13},{"g":"v13","y":279,"x":571,"c":800,"v":0.13},{"g":"v13","y":337,"x":636,"c":800,"v":0.13},{"g":"v13","y":362,"x":666,"c":800,"v":0.13},{"g":"v13","y":385,"x":696,"c":800,"v":0.13},{"g":"v13","y":403,"x":721,"c":800,"v":0.13},{"g":"v13","y":420,"x":746,"c":800,"v":0.13},{"g":"v13","y":431,"x":766,"c":800,"v":0.13},{"g":"v13","y":436,"x":781,"c":800,"v":0.13},{"g":"v13","y":438,"x":800,"c":800,"v":0.13},
{"g":"v115","y":228,"x":511,"c":800,"v":0.115},{"g":"v115","y":273,"x":571,"c":800,"v":0.115},{"g":"v115","y":329,"x":636,"c":800,"v":0.115},{"g":"v115","y":353,"x":666,"c":800,"v":0.115},{"g":"v115","y":376,"x":696,"c":800,"v":0.115},{"g":"v115","y":394,"x":721,"c":800,"v":0.115},{"g":"v115","y":410,"x":746,"c":800,"v":0.115},{"g":"v115","y":420,"x":766,"c":800,"v":0.115},{"g":"v115","y":425,"x":781,"c":800,"v":0.115},{"g":"v115","y":427,"x":800,"c":800,"v":0.115},
{"g":"v10","y":228,"x":514,"c":800,"v":0.1},{"g":"v10","y":268,"x":571,"c":800,"v":0.1},{"g":"v10","y":321,"x":636,"c":800,"v":0.1},{"g":"v10","y":345,"x":666,"c":800,"v":0.1},{"g":"v10","y":367,"x":696,"c":800,"v":0.1},{"g":"v10","y":385,"x":721,"c":800,"v":0.1},{"g":"v10","y":400,"x":746,"c":800,"v":0.1},{"g":"v10","y":410,"x":766,"c":800,"v":0.1},{"g":"v10","y":414,"x":781,"c":800,"v":0.1},{"g":"v10","y":416,"x":800,"c":800,"v":0.1},
{"g":"v085","y":228,"x":520,"c":800,"v":0.085},{"g":"v085","y":261,"x":571,"c":800,"v":0.085},{"g":"v085","y":308,"x":636,"c":800,"v":0.085},{"g":"v085","y":331,"x":666,"c":800,"v":0.085},{"g":"v085","y":352,"x":696,"c":800,"v":0.085},{"g":"v085","y":370,"x":721,"c":800,"v":0.085},{"g":"v085","y":386,"x":746,"c":800,"v":0.085},{"g":"v085","y":395,"x":766,"c":800,"v":0.085},{"g":"v085","y":400,"x":781,"c":800,"v":0.085},{"g":"v085","y":401,"x":800,"c":800,"v":0.085},
{"g":"v07","y":228,"x":526,"c":800,"v":0.07},{"g":"v07","y":255,"x":571,"c":800,"v":0.07},{"g":"v07","y":296,"x":636,"c":800,"v":0.07},{"g":"v07","y":318,"x":666,"c":800,"v":0.07},{"g":"v07","y":338,"x":696,"c":800,"v":0.07},{"g":"v07","y":355,"x":721,"c":800,"v":0.07},{"g":"v07","y":372,"x":746,"c":800,"v":0.07},{"g":"v07","y":380,"x":766,"c":800,"v":0.07},{"g":"v07","y":385,"x":781,"c":800,"v":0.07},{"g":"v07","y":386,"x":800,"c":800,"v":0.07},
{"g":"v06","y":228,"x":533,"c":800,"v":0.06},{"g":"v06","y":248,"x":571,"c":800,"v":0.06},{"g":"v06","y":282,"x":636,"c":800,"v":0.06},{"g":"v06","y":302,"x":666,"c":800,"v":0.06},{"g":"v06","y":321,"x":696,"c":800,"v":0.06},{"g":"v06","y":338,"x":721,"c":800,"v":0.06},{"g":"v06","y":355,"x":746,"c":800,"v":0.06},{"g":"v06","y":363,"x":766,"c":800,"v":0.06},{"g":"v06","y":367,"x":781,"c":800,"v":0.06},{"g":"v06","y":368,"x":800,"c":800,"v":0.06},
{"g":"v05","y":228,"x":541,"c":800,"v":0.05},{"g":"v05","y":241,"x":571,"c":800,"v":0.05},{"g":"v05","y":268,"x":636,"c":800,"v":0.05},{"g":"v05","y":287,"x":666,"c":800,"v":0.05},{"g":"v05","y":305,"x":696,"c":800,"v":0.05},{"g":"v05","y":322,"x":721,"c":800,"v":0.05},{"g":"v05","y":338,"x":746,"c":800,"v":0.05},{"g":"v05","y":346,"x":766,"c":800,"v":0.05},{"g":"v05","y":350,"x":781,"c":800,"v":0.05},{"g":"v05","y":351,"x":800,"c":800,"v":0.05},
{"g":"v04","y":228,"x":560,"c":800,"v":0.04},{"g":"v04","y":234,"x":571,"c":800,"v":0.04},{"g":"v04","y":257,"x":636,"c":800,"v":0.04},{"g":"v04","y":271,"x":666,"c":800,"v":0.04},{"g":"v04","y":287,"x":696,"c":800,"v":0.04},{"g":"v04","y":302,"x":721,"c":800,"v":0.04},{"g":"v04","y":315,"x":746,"c":800,"v":0.04},{"g":"v04","y":322,"x":766,"c":800,"v":0.04},{"g":"v04","y":325,"x":781,"c":800,"v":0.04},{"g":"v04","y":326,"x":800,"c":800,"v":0.04},
{"g":"v03","y":228,"x":581,"c":800,"v":0.03},{"g":"v03","y":246,"x":636,"c":800,"v":0.03},{"g":"v03","y":256,"x":666,"c":800,"v":0.03},{"g":"v03","y":270,"x":696,"c":800,"v":0.03},{"g":"v03","y":282,"x":721,"c":800,"v":0.03},{"g":"v03","y":292,"x":746,"c":800,"v":0.03},{"g":"v03","y":298,"x":766,"c":800,"v":0.03},{"g":"v03","y":300,"x":781,"c":800,"v":0.03},{"g":"v03","y":301,"x":800,"c":800,"v":0.03}
]},
"hconcat":[
{"width":700,"height":2407,"resolve":{"scale":{"x":"independent","y":"independent"}},"layer":[
{"data":{"name":"bands"},"mark":{"type":"area","orient":"horizontal","interpolate":"monotone"},"encoding":{"detail":{"field":"g"},"y":{"field":"y","type":"quantitative","axis":null,"scale":{"domain":[221,2628],"nice":false,"zero":false}},"x":{"field":"x","type":"quantitative","axis":null,"scale":{"domain":[440,1140],"nice":false,"zero":false}},"x2":{"field":"c"},"color":{"field":"v","type":"quantitative","legend":null,"scale":{"domain":[0,0.2,0.5,0.8,0.9],"range":["rgb(15,40,227)","rgb(15,227,227)","rgb(227,227,15)","rgb(227,15,15)","rgb(134,15,15)"],"interpolate":"rgb"}}}},
{"data":{"name":"bands"},"mark":{"type":"area","orient":"horizontal","interpolate":"monotone"},"encoding":{"detail":{"field":"g"},"y":{"field":"y","type":"quantitative","axis":null,"scale":{"domain":[221,2628],"nice":false,"zero":false}},"x":{"field":"x","type":"quantitative","axis":null,"scale":{"domain":[1152,452],"nice":false,"zero":false}},"x2":{"field":"c"},"color":{"field":"v","type":"quantitative","legend":null}}},
{"data":{"name":"bands"},"mark":{"type":"area","orient":"horizontal","interpolate":"monotone"},"encoding":{"detail":{"field":"g"},"y":{"field":"y","type":"quantitative","axis":null,"scale":{"domain":[2629,222],"nice":false,"zero":false}},"x":{"field":"x","type":"quantitative","axis":null,"scale":{"domain":[440,1140],"nice":false,"zero":false}},"x2":{"field":"c"},"color":{"field":"v","type":"quantitative","legend":null}}},
{"data":{"name":"bands"},"mark":{"type":"area","orient":"horizontal","interpolate":"monotone"},"encoding":{"detail":{"field":"g"},"y":{"field":"y","type":"quantitative","axis":null,"scale":{"domain":[2629,222],"nice":false,"zero":false}},"x":{"field":"x","type":"quantitative","axis":null,"scale":{"domain":[1152,452],"nice":false,"zero":false}},"x2":{"field":"c"},"color":{"field":"v","type":"quantitative","legend":null}}},
{"data":{"values":[{"y":228,"y2":2622,"x":452,"x2":1140}]},"mark":{"type":"rect","fill":{"gradient":"linear","x1":0,"y1":0,"x2":0,"y2":1,"stops":[{"offset":0,"color":"rgba(0,0,0,0)"},{"offset":0.5,"color":"rgba(0,0,0,0.05)"},{"offset":1,"color":"rgba(0,0,0,0.12)"}]}},"encoding":{"y":{"field":"y","type":"quantitative","axis":null,"scale":{"domain":[221,2628],"nice":false,"zero":false}},"y2":{"field":"y2"},"x":{"field":"x","type":"quantitative","axis":null,"scale":{"domain":[440,1140],"nice":false,"zero":false}},"x2":{"field":"x2"}}},
{"data":{"name":"edge"},"mark":{"type":"area","orient":"horizontal","interpolate":"monotone","color":"white"},"encoding":{"y":{"field":"y","type":"quantitative","axis":null,"scale":{"domain":[221,2628],"nice":false,"zero":false}},"x":{"field":"x","type":"quantitative","axis":null,"scale":{"domain":[440,1140],"nice":false,"zero":false}},"x2":{"datum":452}}},
{"data":{"name":"edge"},"mark":{"type":"area","orient":"horizontal","interpolate":"monotone","color":"white"},"encoding":{"y":{"field":"y","type":"quantitative","axis":null,"scale":{"domain":[221,2628],"nice":false,"zero":false}},"x":{"field":"x","type":"quantitative","axis":null,"scale":{"domain":[1152,452],"nice":false,"zero":false}},"x2":{"datum":452}}},
{"data":{"name":"edge"},"mark":{"type":"area","orient":"horizontal","interpolate":"monotone","color":"white"},"encoding":{"y":{"field":"y","type":"quantitative","axis":null,"scale":{"domain":[2629,222],"nice":false,"zero":false}},"x":{"field":"x","type":"quantitative","axis":null,"scale":{"domain":[440,1140],"nice":false,"zero":false}},"x2":{"datum":452}}},
{"data":{"name":"edge"},"mark":{"type":"area","orient":"horizontal","interpolate":"monotone","color":"white"},"encoding":{"y":{"field":"y","type":"quantitative","axis":null,"scale":{"domain":[2629,222],"nice":false,"zero":false}},"x":{"field":"x","type":"quantitative","axis":null,"scale":{"domain":[1152,452],"nice":false,"zero":false}},"x2":{"datum":452}}}
]},
{"width":66,"height":2407,"view":{"stroke":"#404040","strokeWidth":1.5},"data":{"values":[{"lo":0,"hi":0.9,"a":0,"b":1}]},"mark":{"type":"rect","fill":{"gradient":"linear","x1":0,"y1":1,"x2":0,"y2":0,"stops":[{"offset":0,"color":"rgb(0,30,255)"},{"offset":0.2222,"color":"rgb(0,255,255)"},{"offset":0.5556,"color":"rgb(255,255,0)"},{"offset":0.8889,"color":"rgb(255,0,0)"},{"offset":1,"color":"rgb(143,0,0)"}]}},"encoding":{"x":{"field":"a","type":"quantitative","axis":null,"scale":{"domain":[0,1],"nice":false}},"x2":{"field":"b"},"y":{"field":"lo","type":"quantitative","scale":{"domain":[0,0.9],"nice":false,"zero":false},"axis":{"orient":"right","title":null,"zindex":1,"values":[0,0.1,0.2,0.3,0.4,0.5,0.6,0.7,0.8,0.9],"format":".1~f","domain":false,"grid":false,"ticks":true,"tickSize":-25,"tickColor":"#262626","tickWidth":1.5,"labelFont":"Liberation Sans","labelFontSize":60,"labelColor":"#262626","labelPadding":46,"labelOffset":4,"labelFlush":false,"labelOverlap":false,"labelBaseline":"middle"}},"y2":{"field":"hi"}}}
]}
